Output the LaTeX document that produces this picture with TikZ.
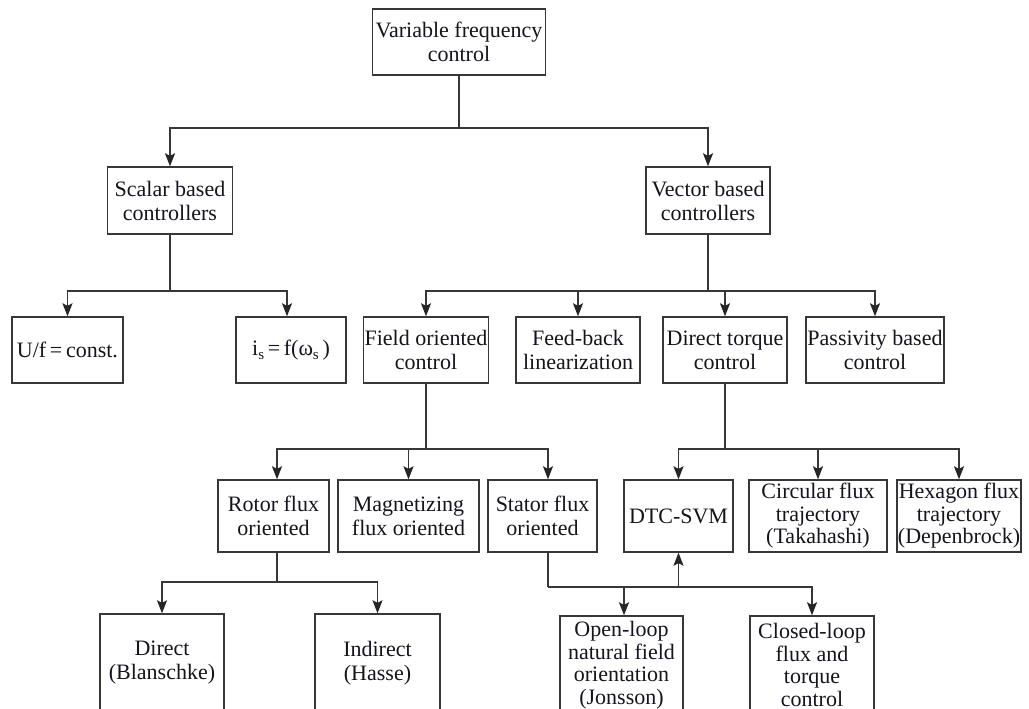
\documentclass[tikz,border=0pt]{standalone}
\usepackage{fontspec}
\setmainfont{Liberation Serif}
\usetikzlibrary{arrows.meta}
\definecolor{linegray}{RGB}{55,55,55}
\definecolor{textcol}{RGB}{20,20,30}
\newcommand\lowsub[1]{\raisebox{-0.45ex}{\fontsize{15}{15}\selectfont #1}}

\begin{document}
\begin{tikzpicture}[x=1pt,y=1pt,
  box/.style={draw=linegray, line width=1.4pt, inner sep=0pt, align=center,
    text=textcol, font=\fontsize{22}{24}\selectfont},
  tight/.style={font=\fontsize{22}{22.5}\selectfont},
  link/.style={draw=linegray, line width=1.4pt},
  arr/.style={link, -{Stealth[length=13pt,width=10pt,inset=2.5pt,color=black!85]}}]

\clip (0,0) rectangle (1029,-709);
\fill[white] (0,0) rectangle (1029,-709);

% level 0
\node[box, minimum width=173pt, minimum height=66pt] (top) at (459,-42) {Variable frequency\\control};

% level 1
\node[box, minimum width=125pt, minimum height=67pt] (scalar) at (170,-200.5) {Scalar based\\controllers};
\node[box, minimum width=124pt, minimum height=67pt] (vector) at (708,-200.5) {Vector based\\controllers};

% level 2
\node[box, minimum width=111pt, minimum height=66pt] (uf) at (67.5,-350) {U/f\,=\,const.};
\node[box, minimum width=110pt, minimum height=66pt] (is) at (291,-350) {i\lowsub{s}\,=\,f(ω\lowsub{s}\,)};
\node[box, minimum width=125pt, minimum height=66pt] (field) at (426,-350) {Field oriented\\control};
\node[box, minimum width=124pt, minimum height=66pt] (feedback) at (578,-350) {Feed-back\\linearization};
\node[box, minimum width=124pt, minimum height=66pt] (dtc) at (725,-350) {Direct torque\\control};
\node[box, minimum width=138pt, minimum height=66pt] (passivity) at (875,-350) {Passivity based\\control};

% level 3
\node[box, minimum width=111pt, minimum height=72pt] (rotor) at (273.5,-516) {Rotor flux\\oriented};
\node[box, minimum width=141pt, minimum height=72pt] (magnet) at (408.5,-516) {Magnetizing\\flux oriented};
\node[box, minimum width=109pt, minimum height=72pt] (stator) at (542.5,-516) {Stator flux\\oriented};
\node[box, minimum width=109pt, minimum height=72pt] (dtcsvm) at (678.5,-516) {DTC-SVM};
\node[box, tight, minimum width=138pt, minimum height=72pt] (circular) at (818,-516) {Circular flux\\trajectory\\(Takahashi)};
\node[box, tight, minimum width=124pt, minimum height=72pt] (hexagon) at (959,-516) {Hexagon flux\\trajectory\\(Depenbrock)};

% level 4 (boxes run past the lower edge)
\node[box, minimum width=124pt, minimum height=98pt] (direct) at (162,-663) {Direct\\(Blanschke)};
\node[box, minimum width=125pt, minimum height=98pt] (indirect) at (377.5,-663) {Indirect\\(Hasse)};
\node[box, tight, minimum width=123pt, minimum height=98pt] (openloop) at (621.5,-665) {Open-loop\\natural field\\orientation\\(Jonsson)};
\node[box, tight, minimum width=124pt, minimum height=98pt] (closedloop) at (812,-665) {Closed-loop\\flux and\\torque\\control};

% bus junctions
\coordinate (busTop) at (459,-128);
\coordinate (busScalar) at (170,-291);
\coordinate (busVector) at (708,-291);
\coordinate (busField) at (426,-449);
\coordinate (busDtc) at (725,-449);
\coordinate (busRotor) at (277,-582);
\coordinate (busStator) at (548,-587);
\coordinate (svmTap) at (678.5,-587);

% connectors
\draw[link] (top.south) -- (busTop);
\draw[arr] (busTop) -| (scalar.north);
\draw[arr] (busTop) -| (vector.north);

\draw[link] (scalar.south) -- (busScalar);
\draw[arr] (busScalar) -| (uf.north);
\draw[arr] (busScalar) -| ([xshift=-4pt]is.north);

\draw[link] (vector.south) -- (busVector);
\draw[arr] (busVector) -| (field.north);
\draw[arr] (busVector) -| (feedback.north);
\draw[arr] (busVector) -| (dtc.north);
\draw[arr] (busVector) -| (passivity.north);

\draw[link] (field.south) -- (busField);
\draw[arr] (busField) -| ([xshift=3.5pt]rotor.north);
\draw[arr] (busField) -| (magnet.north);
\draw[arr] (busField) -| ([xshift=5.5pt]stator.north);

\draw[link] (dtc.south) -- (busDtc);
\draw[arr] (busDtc) -| (dtcsvm.north);
\draw[arr] (busDtc) -| (circular.north);
\draw[arr] (busDtc) -| (hexagon.north);

\draw[link] ([xshift=3.5pt]rotor.south) -- (busRotor);
\draw[arr] (busRotor) -| (direct.north);
\draw[arr] (busRotor) -| (indirect.north);

\draw[link] ([xshift=5.5pt]stator.south) -- (busStator);
\draw[arr] (busStator) -| ([xshift=2.5pt]openloop.north);
\draw[arr] (busStator) -| (closedloop.north);
\draw[arr] (svmTap) -- (dtcsvm.south);
\end{tikzpicture}
\end{document}
